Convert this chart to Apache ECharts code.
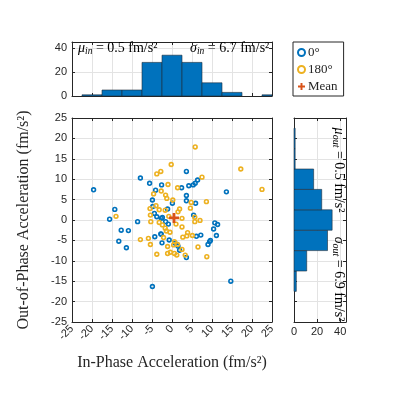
<!DOCTYPE html>
<html><head><meta charset="utf-8">
<script src="https://cdn.jsdelivr.net/npm/echarts@6/dist/echarts.min.js"></script>
<style>html,body{margin:0;padding:0;background:#fff}#c{width:397px;height:397px}</style>
</head><body><div id="c"></div>
<script>
// ---- data ----
const pts0 = [[-19.6,7.4],[-7.9,10.3],[-5.6,9.0],[-2.6,8.6],[-4.1,7.3],[-4.9,4.9],[0.1,4.1],[-14.3,2.6],[-15.6,0.2],[-8.6,-0.4],[-12.7,-2.5],[-10.9,-2.6],[-13.3,-5.2],[-11.4,-6.8],[-4.8,3.3],[-4.4,1.6],[-3.8,0.8],[-2.7,0.4],[-1.6,-0.4],[-4.3,-4.1],[-2.7,-3.5],[-2.5,-5.6],[-0.7,-4.9],[3.6,11.9],[6.4,9.8],[5.8,9.0],[5.3,8.6],[4.2,8.4],[2.4,7.9],[13.6,6.9],[3.6,6.0],[3.6,4.7],[5.9,4.1],[-1.1,2.7],[5.4,1.2],[10.7,-0.7],[11.4,-1.1],[10.4,-2.2],[11.1,-3.8],[7.2,-3.7],[6.1,-4.0],[9.4,-5.3],[9.0,-6.0],[9.6,-5.0],[0.8,-5.7],[1.5,-6.4],[1.9,-7.4],[-4.9,-16.3],[14.7,-15.0],[3.6,-9.2],[-2.4,0.6],[-2.8,-3.4],[-0.9,-1.0]];
const pts180 = [[5.8,17.9],[-0.2,13.6],[17.2,12.5],[-3.8,11.3],[-2.8,11.9],[7.5,10.5],[-1.0,8.7],[1.4,7.9],[22.5,7.5],[-4.6,6.4],[-2.7,7.1],[-1.6,6.1],[-1.3,5.3],[0.2,4.9],[-14.0,0.9],[-7.9,-4.8],[-5.9,-4.5],[-5.4,-6.0],[-5.5,2.8],[-5.4,1.2],[-5.3,-0.4],[-4.0,3.5],[-3.2,2.5],[-3.2,-0.6],[-2.4,-1.2],[-1.7,-2.0],[-1.4,-2.7],[-2.1,-4.3],[-1.1,-6.5],[-3.8,-8.4],[-0.4,-7.9],[1.5,2.0],[4.8,4.3],[8.6,4.5],[4.6,2.9],[1.9,2.7],[2.5,0.4],[5.7,0.7],[5.7,-0.4],[7.0,-0.1],[3.9,-3.1],[5.1,-3.8],[2.7,-4.2],[2.5,-1.7],[6.5,-6.6],[0.6,-5.3],[1.4,-6.0],[8.7,-9.0],[-1.1,-8.2],[0.6,-8.2],[1.2,-8.6],[2.5,-7.2],[3.3,-8.6],[3.7,-3.9],[-1.7,2.4],[-0.8,0.9],[1.0,-1.0],[-0.5,-3.0],[0.4,-6.1]];
const meanPt = [[0.5,0.5]];
const inBinCenters = [-20,-15,-10,-5,0,5,10,15,20,25];
const inCounts     = [1,5,5,28,34,28,11,3,0,1];
const outBinCenters = [-20,-15,-10,-5,0,5,10,15,20,25];
const outCounts     = [0,2,11,29,33,24,17,1,1,0];
const binWidth = 5;
const seriesNames = ['0°','180°','Mean'];
const muIn = '0.5', sigmaIn = '6.7', muOut = '0.5', sigmaOut = '6.9';

// ---- styles ----
const BLUE='#0072BD', ORANGE='#EDB120', RED='#D95319', AX='#262626', GRID='#e3e3e3';
const SANS='Liberation Sans, Arial, sans-serif', SERIF='Liberation Serif, Times New Roman, serif';

const inHist = inBinCenters.map((c,i)=>[c-binWidth/2, c+binWidth/2, inCounts[i]]);
const outHist = outBinCenters.map((c,i)=>[outCounts[i], c-binWidth/2, c+binWidth/2]);

function clipRect(shape, cs){
  return echarts.graphic.clipRectByRect(shape, {x:cs.x,y:cs.y,width:cs.width,height:cs.height});
}
function renderIn(params, api){
  const p0 = api.coord([api.value(0), 0]);
  const p1 = api.coord([api.value(1), api.value(2)]);
  const r = clipRect({x:p0[0], y:p1[1], width:p1[0]-p0[0], height:p0[1]-p1[1]}, params.coordSys);
  if(!r || r.height<=0) return null;
  return {type:'rect', shape:r, style:{fill:BLUE, stroke:'#1f2d3a', lineWidth:0.6}};
}
function renderOut(params, api){
  const p0 = api.coord([0, api.value(1)]);
  const p1 = api.coord([api.value(0), api.value(2)]);
  const r = clipRect({x:p0[0], y:p1[1], width:p1[0]-p0[0], height:p0[1]-p1[1]}, params.coordSys);
  if(!r || r.width<=0) return null;
  return {type:'rect', shape:r, style:{fill:BLUE, stroke:'#1f2d3a', lineWidth:0.6}};
}

const lineStyle = {color:AX, width:1};
function axBase(extra){
  return Object.assign({
    type:'value', axisLine:{show:true, onZero:false, lineStyle},
    axisTick:{show:true, inside:true, length:3, lineStyle},
    axisLabel:{show:false}, splitLine:{show:false}
  }, extra);
}
const lbl = {show:true, color:AX, fontFamily:SANS, fontSize:11};

const chart = echarts.init(document.getElementById('c'), null, {renderer:'canvas'});
const rich = {
  i:{fontFamily:SERIF, fontStyle:'italic', fontSize:14, color:AX, lineHeight:16},
  s:{fontFamily:SERIF, fontStyle:'italic', fontSize:9.5, color:AX, verticalAlign:'bottom', lineHeight:16},
  t:{fontFamily:SERIF, fontSize:14, color:AX, lineHeight:16}
};
const rich2 = {
  i:{fontFamily:SERIF, fontStyle:'italic', fontSize:14, color:AX, lineHeight:17},
  s:{fontFamily:SERIF, fontStyle:'italic', fontSize:10, color:AX, verticalAlign:'bottom', lineHeight:17},
  t:{fontFamily:SERIF, fontSize:14, color:AX, lineHeight:17}
};
function stat(sym, sub, val){ return '{i|'+sym+'}{s|'+sub+'}{t| = '+val+' fm/s²}'; }

chart.setOption({
  animation:false,
  grid:[
    {left:72, top:118, width:200, height:204, outerBoundsMode:'none'},
    {left:72, top:42, width:200, height:54, outerBoundsMode:'none'},
    {left:294, top:118, width:52, height:204, outerBoundsMode:'none'}
  ],
  xAxis:[
    axBase({gridIndex:0, min:-25, max:25, interval:5, position:'bottom',
      axisLabel:Object.assign({}, lbl, {rotate:45, margin:5}),
      splitLine:{show:true, lineStyle:{color:GRID, width:1}},
      name:'In-Phase Acceleration (fm/s²)', nameLocation:'middle', nameGap:33,
      nameTextStyle:{fontFamily:SERIF, fontSize:16, color:AX}}),
    axBase({gridIndex:0, min:-25, max:25, interval:5, position:'top'}),
    axBase({gridIndex:1, min:-25, max:25, interval:5, position:'bottom',
      splitLine:{show:true, lineStyle:{color:GRID, width:1}}}),
    axBase({gridIndex:1, min:-25, max:25, interval:5, position:'top'}),
    axBase({gridIndex:2, min:0, max:45, interval:20, position:'bottom',
      axisLabel:Object.assign({}, lbl, {margin:4, formatter:v=> v%20===0 ? String(v) : ''}),
      splitLine:{show:true, lineStyle:{color:GRID, width:1}}}),
    axBase({gridIndex:2, min:0, max:45, interval:20, position:'top'})
  ],
  yAxis:[
    axBase({gridIndex:0, min:-25, max:25, interval:5, position:'left',
      axisLabel:Object.assign({}, lbl, {margin:5}),
      splitLine:{show:true, lineStyle:{color:GRID, width:1}},
      name:'Out-of-Phase Acceleration (fm/s²)', nameLocation:'middle', nameGap:40, nameRotate:90,
      nameTextStyle:{fontFamily:SERIF, fontSize:16, color:AX}}),
    axBase({gridIndex:0, min:-25, max:25, interval:5, position:'right'}),
    axBase({gridIndex:1, min:0, max:45, interval:20, position:'left',
      axisLabel:Object.assign({}, lbl, {margin:5, formatter:v=> v%20===0 ? String(v) : ''}),
      splitLine:{show:true, lineStyle:{color:GRID, width:1}}}),
    axBase({gridIndex:1, min:0, max:45, interval:20, position:'right'}),
    axBase({gridIndex:2, min:-25, max:25, interval:5, position:'left',
      splitLine:{show:true, lineStyle:{color:GRID, width:1}}}),
    axBase({gridIndex:2, min:-25, max:25, interval:5, position:'right'})
  ],
  legend:{
    show:true, orient:'vertical', left:293, top:42, data:seriesNames,
    itemWidth:7, itemHeight:7, itemGap:2, padding:[3,6,2,4],
    borderColor:AX, borderWidth:1, backgroundColor:'#fff',
    textStyle:{fontFamily:SERIF, fontSize:13, color:AX, padding:[0,0,0,-2], lineHeight:15}
  },
  series:[
    {type:'custom', xAxisIndex:2, yAxisIndex:2, data:inHist, renderItem:renderIn, silent:true},
    {type:'custom', xAxisIndex:4, yAxisIndex:4, data:outHist, renderItem:renderOut, silent:true},
    {name:seriesNames[0], type:'scatter', xAxisIndex:0, yAxisIndex:0, data:pts0, symbol:'circle', symbolSize:3.8,
      itemStyle:{color:'rgba(255,255,255,0)', borderColor:BLUE, borderWidth:1.6, opacity:1}},
    {name:seriesNames[1], type:'scatter', xAxisIndex:0, yAxisIndex:0, data:pts180, symbol:'circle', symbolSize:3.8,
      itemStyle:{color:'rgba(255,255,255,0)', borderColor:ORANGE, borderWidth:1.6, opacity:1}},
    {name:seriesNames[2], type:'scatter', xAxisIndex:0, yAxisIndex:0, data:meanPt, z:5,
      symbol:'path://M3.6,0h2.8v3.6h3.6v2.8h-3.6v3.6h-2.8v-3.6h-3.6v-2.8h3.6z', symbolSize:10,
      itemStyle:{color:RED, opacity:1}}
  ],
  graphic:[
    {type:'text', left:78, top:41, z:100, style:{text:stat('μ','in',muIn), rich:rich}},
    {type:'text', left:190, top:41, z:100, style:{text:stat('σ','in',sigmaIn), rich:rich}},
    {type:'text', x:339, y:170, rotation:-Math.PI/2, z:100,
      style:{text:stat('μ','out',muOut), rich:rich2, align:'center', verticalAlign:'middle'}},
    {type:'text', x:339, y:279, rotation:-Math.PI/2, z:100,
      style:{text:stat('σ','out',sigmaOut), rich:rich2, align:'center', verticalAlign:'middle'}}
  ]
});
</script></body></html>
